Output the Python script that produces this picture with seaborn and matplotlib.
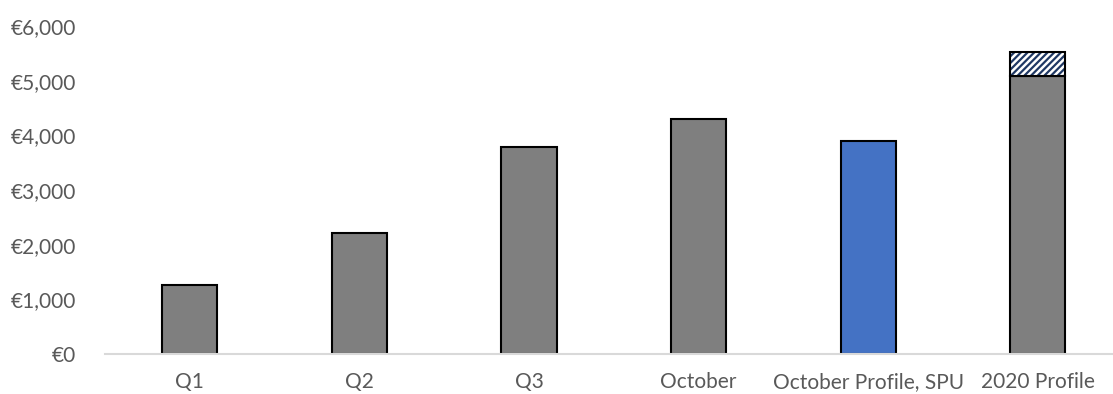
import matplotlib
matplotlib.use("Agg")
import matplotlib.pyplot as plt
import seaborn as sns
import pandas as pd
from matplotlib.ticker import FuncFormatter

categories = ["Q1", "Q2", "Q3", "October", "October Profile, SPU", "2020 Profile"]
values = [1270, 2220, 3790, 4290, 3890, 5090]
extra_2020 = 440
bar_colors = ["#7f7f7f", "#7f7f7f", "#7f7f7f", "#7f7f7f", "#4472c4", "#7f7f7f"]
yticks = [0, 1000, 2000, 3000, 4000, 5000, 6000]

sns.set_theme(style="white")
plt.rcParams["font.family"] = ["Lato", "DejaVu Sans"]
plt.rcParams["hatch.linewidth"] = 1.6

df = pd.DataFrame({"category": categories, "value": values})

W, H = 1113, 394
fig = plt.figure(figsize=(W / 100, H / 100), dpi=100)
ax = fig.add_axes([105 / W, 40 / H, 1 - 105 / W, 328 / H])

sns.barplot(data=df, x="category", y="value", hue="category", palette=bar_colors,
            legend=False, width=0.325, edgecolor="black", linewidth=1.5, saturation=1, ax=ax)

# hatched top segment on the last bar
last = len(categories) - 1
ax.bar(last, extra_2020, bottom=values[last], width=0.325, color="white",
       edgecolor="#1f3864", hatch="/////", linewidth=0, zorder=3)
ax.bar(last, extra_2020, bottom=values[last], width=0.325, fill=False,
       edgecolor="black", linewidth=1.5, zorder=4)

ax.set_xlim(-0.5, (W - 105) / 169.6 - 0.5)
ax.set_ylim(0, 6000)
ax.set_yticks(yticks)
ax.yaxis.set_major_formatter(FuncFormatter(lambda v, p: "€{:,.0f}".format(v)))
ax.set_xlabel("")
ax.set_ylabel("")

for side in ["top", "right", "left"]:
    ax.spines[side].set_visible(False)
ax.spines["bottom"].set_color("#d9d9d9")
ax.spines["bottom"].set_linewidth(1.5)
ax.tick_params(axis="both", length=0, labelsize=15, labelcolor="#595959")
ax.tick_params(axis="y", pad=21)
ax.tick_params(axis="x", pad=13)

fig.savefig("out.png", dpi=100)
